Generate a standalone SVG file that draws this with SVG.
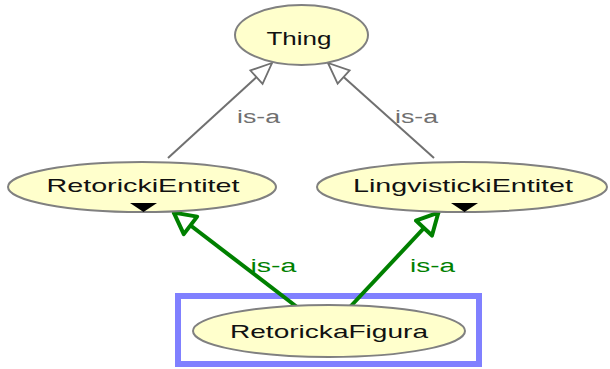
<svg xmlns="http://www.w3.org/2000/svg" width="610" height="369" viewBox="0 0 610 369">
<style>
.node{fill:#ffffcc;stroke:#808080;stroke-width:2}
.lbl{font-family:"Liberation Sans",Arial,sans-serif;font-size:19px;fill:#111;text-anchor:middle}
.isa{font-family:"Liberation Sans",Arial,sans-serif;font-size:18px;text-anchor:middle}
.gray{stroke:#707070;stroke-width:2;fill:none}
.green{stroke:#008000;stroke-width:4;fill:none}
</style>
<defs>
<marker id="ag" markerUnits="userSpaceOnUse" viewBox="-26 -14 30 28" refX="0" refY="0" markerWidth="30" markerHeight="28" orient="auto">
<path d="M0,0 L-21,-9 L-21,9 Z" fill="#fff" stroke="#707070" stroke-width="1.8" stroke-linejoin="miter"/>
</marker>
<marker id="agr" markerUnits="userSpaceOnUse" viewBox="-30 -18 36 36" refX="0" refY="0" markerWidth="36" markerHeight="36" orient="auto">
<path d="M-1,0 L-22,-11 L-22,11 Z" fill="#fff" stroke="#008000" stroke-width="4" stroke-linejoin="round"/>
</marker>
</defs>
<rect x="178" y="296" width="301" height="68" fill="none" stroke="#8080ff" stroke-width="6"/>
<g id="connectors">
<line class="gray" x1="168" y1="158" x2="272" y2="63" marker-end="url(#ag)"/>
<line class="gray" x1="434" y1="158" x2="328" y2="63" marker-end="url(#ag)"/>
<line class="green" x1="297" y1="307" x2="173" y2="212" marker-end="url(#agr)"/>
<line class="green" x1="350" y1="307" x2="439" y2="212" marker-end="url(#agr)"/>
<text class="isa" x="258.5" y="123" fill="#707070" textLength="43" lengthAdjust="spacingAndGlyphs">is-a</text>
<text class="isa" x="416.5" y="123" fill="#707070" textLength="43" lengthAdjust="spacingAndGlyphs">is-a</text>
<text class="isa" x="273.5" y="272" fill="#008000" textLength="46" lengthAdjust="spacingAndGlyphs">is-a</text>
<text class="isa" x="432.5" y="272" fill="#008000" textLength="45" lengthAdjust="spacingAndGlyphs">is-a</text>
</g>
<g id="Thing">
<ellipse class="node" cx="301.5" cy="35" rx="66.5" ry="30"/>
<text class="lbl" x="299" y="45" font-size="20" textLength="65" lengthAdjust="spacingAndGlyphs">Thing</text>
</g>
<g id="RetorickiEntitet">
<ellipse class="node" cx="142" cy="187" rx="134" ry="25"/>
<text class="lbl" x="143" y="192" textLength="193" lengthAdjust="spacingAndGlyphs">RetorickiEntitet</text>
<polygon points="130,203 157,203 143.5,212" fill="#000"/>
</g>
<g id="LingvistickiEntitet">
<ellipse class="node" cx="462" cy="187" rx="145" ry="25"/>
<text class="lbl" x="463" y="192" textLength="220" lengthAdjust="spacingAndGlyphs">LingvistickiEntitet</text>
<polygon points="451,203 478,203 464.5,212" fill="#000"/>
</g>
<g id="RetorickaFigura">
<ellipse class="node" cx="329" cy="331" rx="136" ry="26"/>
<text class="lbl" x="329" y="338" textLength="198" lengthAdjust="spacingAndGlyphs">RetorickaFigura</text>
</g>
</svg>
